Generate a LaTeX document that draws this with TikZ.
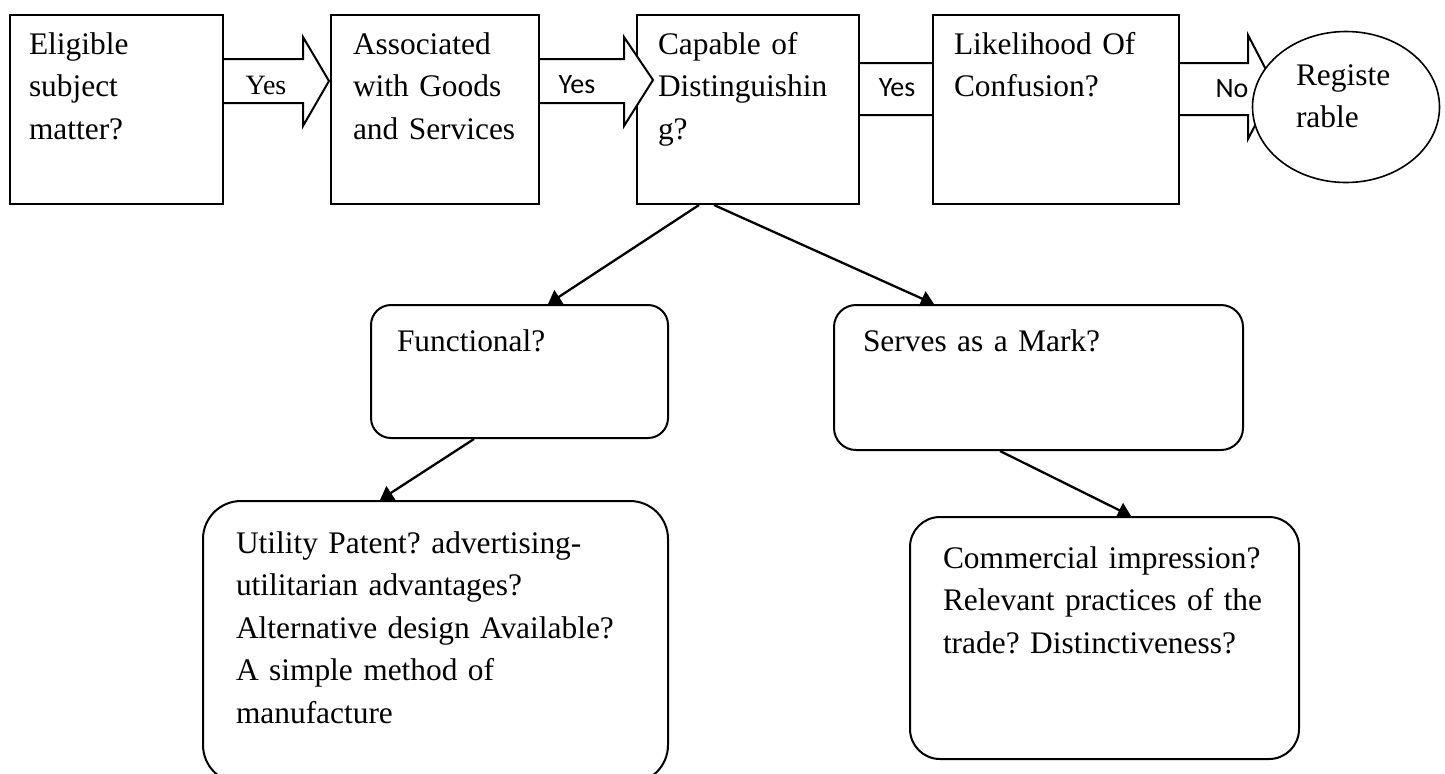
\documentclass[tikz,border=0pt]{standalone}
\usepackage{fontspec}
\setmainfont{Liberation Serif}
\newfontfamily\calibrifont{Carlito}
\usetikzlibrary{arrows.meta,positioning,calc,shapes.geometric,backgrounds}
\frenchspacing
\newcommand{\bodyfont}{\fontsize{15.7}{21.25}\selectfont}
\tikzset{
  % square question boxes of the top row
  qbox/.style={draw, line width=1pt, fill=white, anchor=north west, align=left,
    inner ysep=0pt, text height=19.5pt, text depth=75pt},
  % rounded boxes of the two lower rows
  rbox/.style={draw, line width=1pt, fill=white, anchor=north west, align=left,
    inner ysep=0pt},
  % hollow block arrows between the top boxes
  blockarr/.style={draw, line width=1pt, fill=white, line join=miter},
  % thin branch arrows
  brancharr/.style={-{Triangle[length=6.5pt,width=8pt]}, line width=1.15pt},
  % labels on the block arrows
  yeslbl/.style={font=\calibrifont\fontsize{14}{16}\selectfont, inner sep=0pt},
}

\begin{document}
\begin{tikzpicture}[x=0.5pt, y=-0.5pt, font=\bodyfont]
    \useasboundingbox (0,0) rectangle (1445,773);
    % top row
    \node[qbox, text width=87.5pt, inner xsep=9.5pt] (elig) at (9,14) {Eligible\\subject\\matter?};
    \node[qbox, text width=82pt, inner xsep=11pt] (assoc) at (330,14) {Associated\\with Goods\\and Services};
    \node[qbox, text width=90pt, inner xsep=10.5pt] (capable) at (636,14) {Capable of\\Distinguishin\\g?};
    \node[qbox, text width=102pt, inner xsep=10.5pt] (likely) at (932,14) {Likelihood Of\\Confusion?};
    \node[draw, ellipse, line width=0.8pt, fill=white, minimum width=93.5pt, minimum height=75.5pt,
      inner sep=0pt, text width=50pt, align=left, text height=10pt, text depth=32pt] (reg) at (1346,107) {Registe\\rable};
    % block arrows
    \draw[blockarr] ($(elig.north east)+(0,45)$) -- (303,59) -- (303,37) -- (329,81)
      -- (303,126) -- (303,103) -- ($(elig.north east)+(0,89)$);
    \node[inner sep=0pt, font=\fontsize{14}{16}\selectfont] (yes1) at (266,85) {Yes};
    \draw[blockarr] ($(assoc.north east)+(0,45)$) -- (624,59) -- (624,37) -- (653,80)
      -- (624,126) -- (624,103) -- ($(assoc.north east)+(0,89)$);
    \node[yeslbl] (yes2) at (577,85) {Yes};
    \begin{scope}[on background layer]
      \draw[blockarr] ($(capable.north east)+(0,49)$) -- (965,63) -- (965,35) -- (1000,89)
        -- (965,143) -- (965,115) -- ($(capable.north east)+(0,101)$);
      \draw[blockarr] ($(likely.north east)+(0,49)$) -- (1248,63) -- (1248,35) -- (1275,87)
        -- (1248,139) -- (1248,115) -- ($(likely.north east)+(0,101)$);
    \end{scope}
    \node[yeslbl] (yes3) at (897,88) {Yes};
    \node[yeslbl] (no4) at (1232,89) {No};
    % second row
    \node[rbox, rounded corners=10pt, text width=122.5pt, inner xsep=13pt,
      text height=23pt, text depth=43.5pt] (func) at (370,304) {Functional?};
    \node[rbox, rounded corners=11pt, text width=175.5pt, inner xsep=14.5pt,
      text height=23pt, text depth=49.5pt] (mark) at (833,304) {Serves as a Mark?};
    % third row
    \node[rbox, rounded corners=19pt, text width=199.5pt, inner xsep=16.5pt,
      text height=26pt, text depth=115pt] (util) at (202,500)
      {Utility Patent? advertising-\\utilitarian advantages?\\Alternative design Available?\\A simple method of\\manufacture};
    \node[rbox, rounded corners=15pt, text width=161.5pt, inner xsep=16.5pt,
      text height=25.5pt, text depth=95.5pt] (comm) at (909,516)
      {Commercial impression?\\Relevant practices of the\\trade? Distinctiveness?};
    % branch arrows
    \draw[brancharr] ($(capable.south)+(-49,0)$) -- ($(func.north)+(28.5,0)$);
    \draw[brancharr] ($(capable.south)+(-34,0)$) -- ($(mark.north)+(-104.5,0)$);
    \draw[brancharr] ($(func.south)+(-45.5,0)$) -- ($(util.north)+(-55.5,0)$);
    \draw[brancharr] ($(mark.south)+(-38.5,0)$) -- ($(comm.north)+(26.5,0)$);
\end{tikzpicture}
\end{document}
